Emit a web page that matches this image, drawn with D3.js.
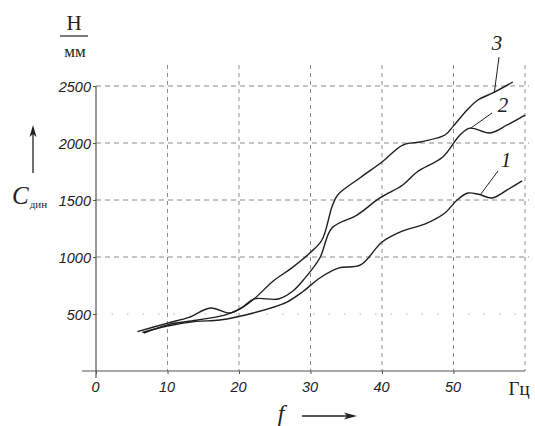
<!DOCTYPE html>
<html lang="en">
<head>
    <meta charset="UTF-8">
    <title>C dyn</title>
    <style type="text/css">
        * {
            margin: 0;
            padding: 0;
        }
        body { background: #fff; }
        .tick-label { font-family: "Liberation Sans", Arial, sans-serif; font-style: italic; font-size: 14.5px; fill: #222; }
        .serif { font-family: "Liberation Serif", "DejaVu Serif", serif; fill: #222; }
    </style>
</head>
<body>
<div id="chart-area"></div>
<script src="https://cdn.jsdelivr.net/npm/d3@7"></script>
<script type="text/javascript">

  // tick values
  const xTicks = [0, 10, 20, 30, 40, 50]
  const yTicks = [500, 1000, 1500, 2000, 2500]
  const xGrid = [10, 20, 30, 40, 50, 60]

  // curves (f in Hz, C in N/mm)
  const f1 = [6.5, 10, 14, 17.3, 22, 26.7, 29, 31.3, 34, 37, 40, 42.5, 46.3, 48.8, 50.5, 52, 53.5, 55.4, 57.5, 59.6]
  const c1 = [338, 395, 435, 447, 509, 605, 700, 816, 904, 930, 1132, 1219, 1298, 1386, 1500, 1561, 1550, 1518, 1588, 1667]

  const f2 = [5.8, 10, 13, 16, 18.7, 20.5, 22.1, 25.5, 27.5, 29, 31.3, 33, 36.5, 39.7, 42.9, 44.9, 48.5, 50.9, 52.3, 55.1, 57.5, 60]
  const c2 = [345, 420, 470, 553, 509, 560, 632, 632, 700, 798, 991, 1254, 1368, 1518, 1632, 1746, 1877, 2070, 2130, 2088, 2158, 2245]

  const f3 = [6.7, 10, 14, 18, 20, 22.1, 24.8, 27.3, 29.9, 31.6, 33, 33.8, 36.9, 40, 42.9, 45.3, 48.8, 50, 51.9, 53.4, 55.5, 58.3]
  const c3 = [332, 405, 445, 490, 540, 632, 790, 900, 1035, 1149, 1439, 1544, 1693, 1833, 1982, 2009, 2070, 2150, 2289, 2377, 2439, 2535]

  const curveLabels = ['1', '2', '3']

  const W = 535, H = 426
  const svg = d3.select('#chart-area').append('svg')
    .attr('width', W)
    .attr('height', H)

  const x = d3.scaleLinear().domain([0, 60]).range([96, 525])
  const y = d3.scaleLinear().domain([0, 2500]).range([371, 86])

  // grid
  svg.append('g').selectAll('line').data(xGrid).join('line')
    .attr('x1', d => x(d)).attr('x2', d => x(d))
    .attr('y1', 65).attr('y2', y(0))
    .attr('stroke', '#8a8a8a').attr('stroke-width', 1)
    .attr('stroke-dasharray', '4,4')

  svg.append('g').selectAll('line').data(yTicks).join('line')
    .attr('x1', x(0)).attr('x2', 529)
    .attr('y1', d => y(d)).attr('y2', d => y(d))
    .attr('stroke', d => d === 500 ? '#b5b5b5' : '#8a8a8a').attr('stroke-width', 1)
    .attr('stroke-dasharray', d => d === 500 ? '1.5,14' : '5,4')

  // axes
  const xAxisCall = d3.axisBottom(x).tickValues(xTicks).tickSize(3).tickSizeOuter(0).tickFormat(d => d)
  const yAxisCall = d3.axisLeft(y).tickValues(yTicks).tickSize(3).tickSizeOuter(0).tickFormat(d => d)

  svg.append('g')
    .attr('transform', `translate(0, ${y(0)})`)
    .call(xAxisCall)
    .call(g => g.select('.domain').remove())
    .call(g => g.selectAll('.tick line').attr('stroke', '#555'))
    .call(g => g.selectAll('.tick text').attr('class', 'tick-label')
      .attr('font-family', null).attr('font-size', null)
      .attr('y', 11).attr('dy', '0.71em').attr('x', -1))

  svg.append('g')
    .attr('transform', `translate(${x(0)}, 0)`)
    .call(yAxisCall)
    .call(g => g.select('.domain').remove())
    .call(g => g.selectAll('.tick line').attr('stroke', '#555'))
    .call(g => g.selectAll('.tick text').attr('class', 'tick-label')
      .attr('font-family', null).attr('font-size', null)
      .attr('x', -5).attr('dy', '0.35em'))

  svg.append('line')
    .attr('x1', 82).attr('x2', 525)
    .attr('y1', y(0)).attr('y2', y(0))
    .attr('stroke', '#555').attr('stroke-width', 1.2)
  svg.append('line')
    .attr('x1', x(0)).attr('x2', x(0))
    .attr('y1', y(2500)).attr('y2', 378)
    .attr('stroke', '#555').attr('stroke-width', 1.2)

  // curves
  const line = d3.line()
    .x(d => x(d[0]))
    .y(d => y(d[1]))
    .curve(d3.curveCatmullRom.alpha(0.5))

  const series = [d3.zip(f1, c1), d3.zip(f2, c2), d3.zip(f3, c3)]
  svg.append('g').selectAll('path').data(series).join('path')
    .attr('d', line)
    .attr('fill', 'none')
    .attr('stroke', '#1e1e1e')
    .attr('stroke-width', 1.4)

  // curve labels with leader lines (anchored on the data of each curve)
  const leaders = [
    {i: 0, f: 53.8, c: c1[16], lx: 498, ly: 171, tx: 506, ty: 167},
    {i: 1, f: 52.4, c: c2[18], lx: 492, ly: 113, tx: 503, ty: 112},
    {i: 2, f: 55.7, c: c3[20], lx: 499, ly: 57, tx: 497, ty: 50}
  ]
  leaders.forEach(d => {
    svg.append('line')
      .attr('x1', x(d.f)).attr('y1', y(d.c))
      .attr('x2', d.lx).attr('y2', d.ly)
      .attr('stroke', '#1e1e1e').attr('stroke-width', 1)
    svg.append('text')
      .attr('class', 'serif')
      .attr('x', d.tx).attr('y', d.ty)
      .attr('text-anchor', 'middle')
      .attr('font-size', '21px')
      .attr('font-style', 'italic')
      .text(curveLabels[d.i])
  })

  // units
  svg.append('text').attr('class', 'serif')
    .attr('x', 74).attr('y', 30)
    .attr('text-anchor', 'middle')
    .attr('font-size', '21px')
    .text('Н')
  svg.append('line')
    .attr('x1', 60).attr('x2', 88)
    .attr('y1', 36).attr('y2', 36)
    .attr('stroke', '#222').attr('stroke-width', 1.2)
  svg.append('text').attr('class', 'serif')
    .attr('x', 75).attr('y', 57)
    .attr('text-anchor', 'middle')
    .attr('font-size', '17px')
    .text('мм')

  // y label + arrow
  const yl = svg.append('text').attr('class', 'serif')
    .attr('x', 12).attr('y', 204)
  yl.append('tspan').attr('font-size', '25px').attr('font-style', 'italic').text('C')
  yl.append('tspan').attr('font-size', '11px').attr('dx', 1).attr('dy', 4).text('дин')

  svg.append('line')
    .attr('x1', 33).attr('x2', 33)
    .attr('y1', 173).attr('y2', 134)
    .attr('stroke', '#222').attr('stroke-width', 1.3)
  svg.append('path')
    .attr('d', 'M33,125 L29.5,137 L33,134 L36.5,137 Z')
    .attr('fill', '#222')

  // x label + arrow
  svg.append('text').attr('class', 'serif')
    .attr('x', 281).attr('y', 421)
    .attr('text-anchor', 'middle')
    .attr('font-size', '24px')
    .attr('font-style', 'italic')
    .text('f')
  svg.append('line')
    .attr('x1', 302).attr('x2', 348)
    .attr('y1', 416).attr('y2', 416)
    .attr('stroke', '#222').attr('stroke-width', 1.3)
  svg.append('path')
    .attr('d', 'M357,416 L344,412.5 L347,416 L344,419.5 Z')
    .attr('fill', '#222')

  svg.append('text').attr('class', 'serif')
    .attr('x', 519).attr('y', 395)
    .attr('text-anchor', 'middle')
    .attr('font-size', '19px')
    .text('Гц')

</script>
</body>
</html>
